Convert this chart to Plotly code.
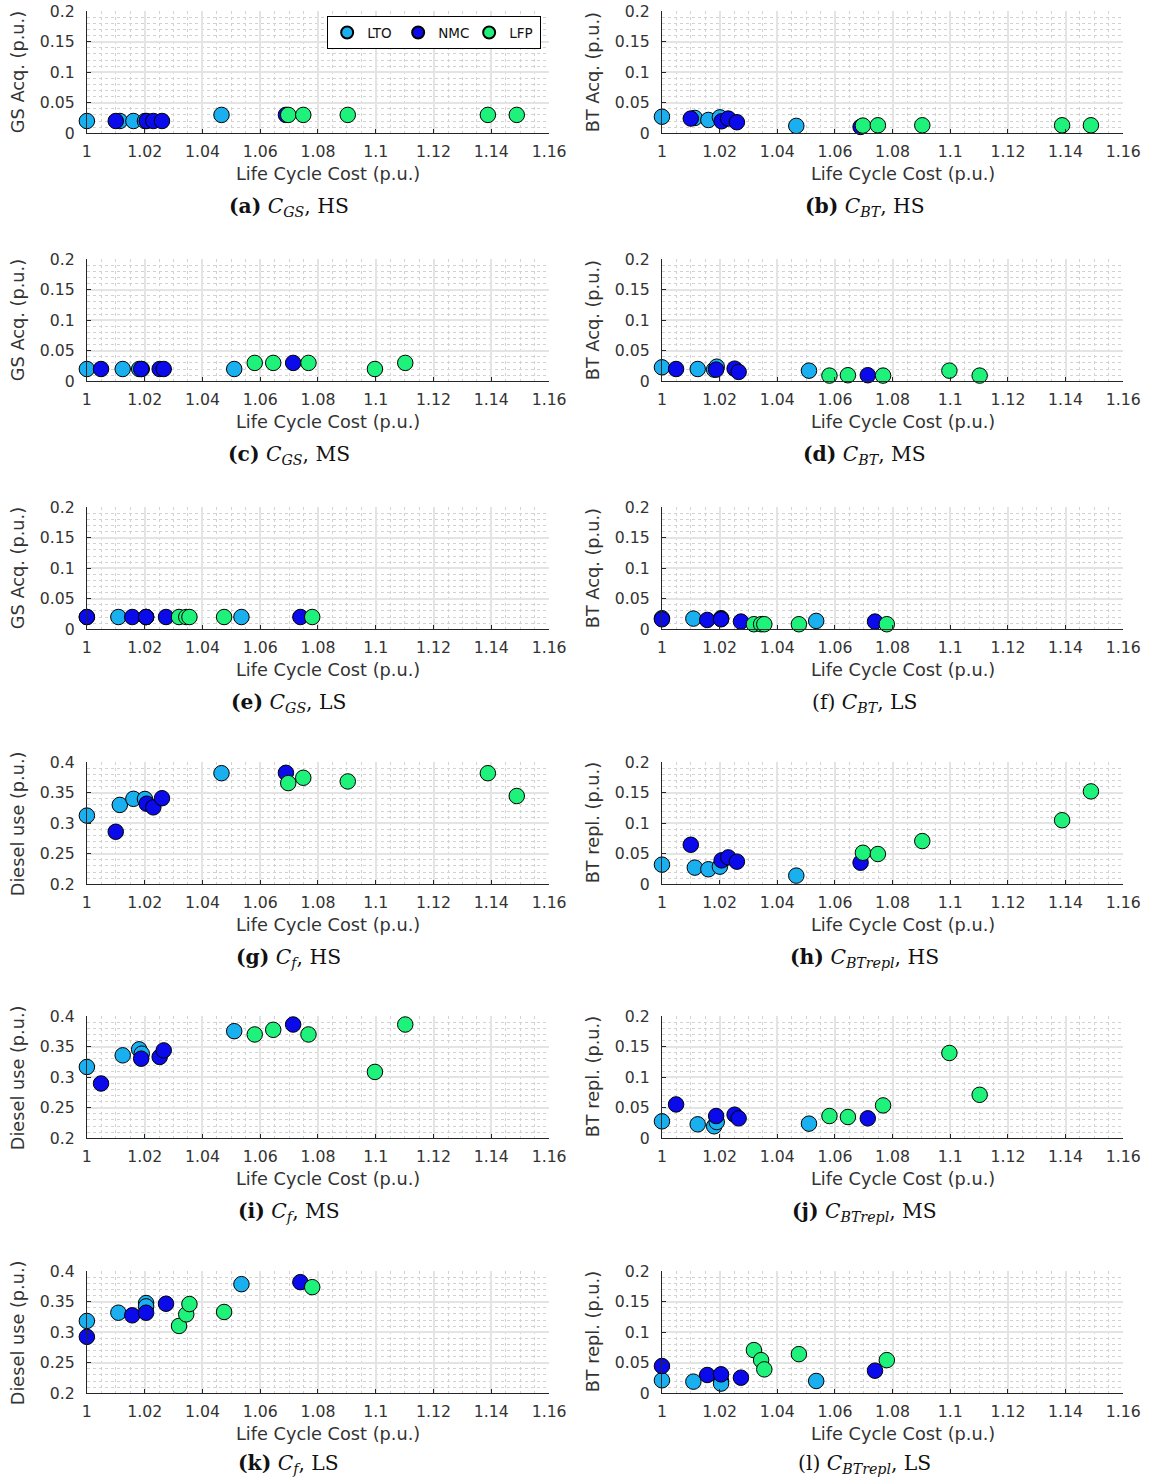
import plotly.graph_objects as go

# ---------------- data ----------------
battery_types = ["LTO", "NMC", "LFP"]
battery_colors = ["#1ab0f0", "#0a0aea", "#1ef27a"]

# Life cycle cost (p.u.) of each design, per scenario and battery type
lcc_hs_lto = [1.000, 1.0114, 1.0161, 1.0201, 1.0466]
lcc_hs_nmc = [1.0100, 1.0207, 1.0230, 1.0260, 1.0689]
lcc_hs_lfp = [1.0697, 1.0749, 1.0903, 1.1388, 1.1488]

lcc_ms_lto = [1.000, 1.0124, 1.0181, 1.0190, 1.0510]
lcc_ms_nmc = [1.0049, 1.0188, 1.0252, 1.0266, 1.0714]
lcc_ms_lfp = [1.0581, 1.0645, 1.0767, 1.0997, 1.1102]

lcc_ls_lto = [1.000, 1.0109, 1.0205, 1.0205, 1.0535]
lcc_ls_nmc = [1.000, 1.0157, 1.0205, 1.0274, 1.0739]
lcc_ls_lfp = [1.0319, 1.0344, 1.0355, 1.0475, 1.0780]

# Generator set acquisition cost (p.u.)
gs_hs_lto = [0.02, 0.02, 0.02, 0.02, 0.03]
gs_hs_nmc = [0.02, 0.02, 0.02, 0.02, 0.03]
gs_hs_lfp = [0.03, 0.03, 0.03, 0.03, 0.03]
gs_ms_lto = [0.02, 0.02, 0.02, 0.02, 0.02]
gs_ms_nmc = [0.02, 0.02, 0.02, 0.02, 0.03]
gs_ms_lfp = [0.03, 0.03, 0.03, 0.02, 0.03]
gs_ls_lto = [0.02, 0.02, 0.02, 0.02, 0.02]
gs_ls_nmc = [0.02, 0.02, 0.02, 0.02, 0.02]
gs_ls_lfp = [0.02, 0.02, 0.02, 0.02, 0.02]

# Battery acquisition cost (p.u.)
bt_hs_lto = [0.027, 0.025, 0.0217, 0.026, 0.012]
bt_hs_nmc = [0.024, 0.0196, 0.024, 0.018, 0.0103]
bt_hs_lfp = [0.0125, 0.013, 0.013, 0.013, 0.013]
bt_ms_lto = [0.0228, 0.020, 0.019, 0.0238, 0.0173]
bt_ms_nmc = [0.020, 0.019, 0.0206, 0.0152, 0.0098]
bt_ms_lfp = [0.0092, 0.0098, 0.0092, 0.0173, 0.0092]
bt_ls_lto = [0.018, 0.0174, 0.018, 0.017, 0.0136]
bt_ls_nmc = [0.0163, 0.0152, 0.0163, 0.0125, 0.0125]
bt_ls_lfp = [0.0082, 0.0082, 0.0082, 0.0082, 0.0082]

# Diesel use cost (p.u.)
fuel_hs_lto = [0.3125, 0.330, 0.340, 0.3397, 0.382]
fuel_hs_nmc = [0.286, 0.332, 0.326, 0.341, 0.3826]
fuel_hs_lfp = [0.3658, 0.3745, 0.3685, 0.382, 0.3446]
fuel_ms_lto = [0.3168, 0.3359, 0.3457, 0.3386, 0.3755]
fuel_ms_nmc = [0.2897, 0.3304, 0.3332, 0.344, 0.3864]
fuel_ms_lfp = [0.3701, 0.3777, 0.3701, 0.3087, 0.3864]
fuel_ls_lto = [0.3185, 0.332, 0.3478, 0.3424, 0.3788]
fuel_ls_nmc = [0.2924, 0.3277, 0.332, 0.3467, 0.3821]
fuel_ls_lfp = [0.3103, 0.3293, 0.3462, 0.3332, 0.3739]

# Battery replacement cost (p.u.)
repl_hs_lto = [0.0321, 0.0272, 0.0245, 0.0288, 0.0141]
repl_hs_nmc = [0.0647, 0.0391, 0.044, 0.037, 0.0353]
repl_hs_lfp = [0.0516, 0.0495, 0.0707, 0.1049, 0.1522]
repl_ms_lto = [0.0277, 0.0228, 0.0196, 0.0266, 0.0239]
repl_ms_nmc = [0.0554, 0.0364, 0.0386, 0.0326, 0.0326]
repl_ms_lfp = [0.0364, 0.0348, 0.0538, 0.1397, 0.0712]
repl_ls_lto = [0.0212, 0.019, 0.0201, 0.0158, 0.0201]
repl_ls_nmc = [0.0446, 0.0299, 0.031, 0.0255, 0.037]
repl_ls_lfp = [0.0707, 0.0543, 0.0391, 0.0641, 0.0543]

x_ticks = [1.00, 1.02, 1.04, 1.06, 1.08, 1.10, 1.12, 1.14, 1.16]
x_tick_text = ["1", "1.02", "1.04", "1.06", "1.08", "1.1", "1.12", "1.14", "1.16"]
acq_ticks = [0, 0.05, 0.10, 0.15, 0.20]
acq_tick_text = ["0", "0.05", "0.1", "0.15", "0.2"]
fuel_ticks = [0.20, 0.25, 0.30, 0.35, 0.40]
fuel_tick_text = ["0.2", "0.25", "0.3", "0.35", "0.4"]

lcc = {
    "HS": [lcc_hs_lto, lcc_hs_nmc, lcc_hs_lfp],
    "MS": [lcc_ms_lto, lcc_ms_nmc, lcc_ms_lfp],
    "LS": [lcc_ls_lto, lcc_ls_nmc, lcc_ls_lfp],
}

# (letter, bold letter?, cost symbol, subscript, scenario, y label, y values, y kind)
panels = [
    ("a", True, "C", "GS", "HS", "GS Acq. (p.u.)", [gs_hs_lto, gs_hs_nmc, gs_hs_lfp], "acq"),
    ("b", True, "C", "BT", "HS", "BT Acq. (p.u.)", [bt_hs_lto, bt_hs_nmc, bt_hs_lfp], "acq"),
    ("c", True, "C", "GS", "MS", "GS Acq. (p.u.)", [gs_ms_lto, gs_ms_nmc, gs_ms_lfp], "acq"),
    ("d", True, "C", "BT", "MS", "BT Acq. (p.u.)", [bt_ms_lto, bt_ms_nmc, bt_ms_lfp], "acq"),
    ("e", True, "C", "GS", "LS", "GS Acq. (p.u.)", [gs_ls_lto, gs_ls_nmc, gs_ls_lfp], "acq"),
    ("f", False, "C", "BT", "LS", "BT Acq. (p.u.)", [bt_ls_lto, bt_ls_nmc, bt_ls_lfp], "acq"),
    ("g", True, "C", "f", "HS", "Diesel use (p.u.)", [fuel_hs_lto, fuel_hs_nmc, fuel_hs_lfp], "fuel"),
    ("h", True, "C", "BTrepl", "HS", "BT repl. (p.u.)", [repl_hs_lto, repl_hs_nmc, repl_hs_lfp], "acq"),
    ("i", True, "C", "f", "MS", "Diesel use (p.u.)", [fuel_ms_lto, fuel_ms_nmc, fuel_ms_lfp], "fuel"),
    ("j", True, "C", "BTrepl", "MS", "BT repl. (p.u.)", [repl_ms_lto, repl_ms_nmc, repl_ms_lfp], "acq"),
    ("k", True, "C", "f", "LS", "Diesel use (p.u.)", [fuel_ls_lto, fuel_ls_nmc, fuel_ls_lfp], "fuel"),
    ("l", False, "C", "BTrepl", "LS", "BT repl. (p.u.)", [repl_ls_lto, repl_ls_nmc, repl_ls_lfp], "acq"),
]

# ---------------- layout geometry ----------------
W, H = 1154, 1484
# Target positions below are page pixels; the figure sits inside the body's
# margin and the page is shown slightly scaled, so convert to figure pixels.
SCALE_X, OFFSET_X = 0.9825, 4.0
SCALE_Y, OFFSET_Y = 0.9865, 9.8

col_px = [(86, 549), (662, 1124)]
row_px = [(11, 133), (259, 381), (507, 629), (762, 884), (1016, 1138), (1271, 1393)]
col_center = [288, 865]
ylabel_x = [17, 593]


def px_x(p):
    return ((p - OFFSET_X) / SCALE_X) / W


def px_y(p):
    return 1 - min((p - OFFSET_Y) / SCALE_Y, H) / H


def fs(v):
    return v / SCALE_Y


AX_FONT = dict(family="DejaVu Sans", size=fs(15.5), color="#333333")
TITLE_FONT = dict(family="DejaVu Sans", size=fs(17.5), color="#333333")
CAP_FONT = dict(family="DejaVu Serif", size=fs(20), color="#111111")

fig = go.Figure()
annotations = []

for i, (letter, bold, sym, sub, scen, ylab, yvals, kind) in enumerate(panels):
    r, c = divmod(i, 2)
    n = i + 1
    xa = "x" if n == 1 else f"x{n}"
    ya = "y" if n == 1 else f"y{n}"
    xkey = "xaxis" if n == 1 else f"xaxis{n}"
    ykey = "yaxis" if n == 1 else f"yaxis{n}"

    for k, (name, color) in enumerate(zip(battery_types, battery_colors)):
        fig.add_trace(go.Scatter(
            x=lcc[scen][k], y=yvals[k], mode="markers", name=name,
            legendgroup=name, showlegend=(n == 1),
            marker=dict(size=15.5, color=color, line=dict(color="#000000", width=1)),
            cliponaxis=False, xaxis=xa, yaxis=ya,
        ))

    x0, x1 = col_px[c]
    top, bot = row_px[r]
    if kind == "fuel":
        yr, ytv, ytt = [0.2, 0.4], fuel_ticks, fuel_tick_text
    else:
        yr, ytv, ytt = [0, 0.2], acq_ticks, acq_tick_text

    fig.layout[xkey] = dict(
        domain=[px_x(x0), px_x(x1)], anchor=ya, range=[1, 1.16],
        tickvals=x_ticks, ticktext=x_tick_text, tickfont=AX_FONT,
        ticks="inside", ticklen=4, tickcolor="#262626", ticklabelstandoff=4,
        showline=True, linecolor="#262626", linewidth=1, zeroline=False,
        showgrid=True, gridcolor="#e4e4e4", gridwidth=1.5,
        minor=dict(dtick=0.005, tick0=1, showgrid=True, gridcolor="#d2d2d2",
                   griddash="dot", gridwidth=1),
        fixedrange=True,
    )
    fig.layout[ykey] = dict(
        domain=[px_y(bot), px_y(top)], anchor=xa, range=yr,
        tickvals=ytv, ticktext=ytt, tickfont=AX_FONT,
        ticks="inside", ticklen=4, tickcolor="#262626", ticklabelstandoff=8,
        showline=True, linecolor="#262626", linewidth=1, zeroline=False,
        showgrid=True, gridcolor="#e4e4e4", gridwidth=1.5,
        minor=dict(dtick=0.01, showgrid=True, gridcolor="#d2d2d2",
                   griddash="dot", gridwidth=1),
        fixedrange=True,
    )

    # axis titles
    annotations.append(dict(
        text="Life Cycle Cost (p.u.)", x=px_x((x0 + x1) / 2 + 10), y=px_y(bot + 41),
        xref="paper", yref="paper", showarrow=False, font=TITLE_FONT,
        xanchor="center", yanchor="middle",
    ))
    annotations.append(dict(
        text=ylab, x=px_x(ylabel_x[c]), y=px_y((top + bot) / 2),
        xref="paper", yref="paper", showarrow=False, font=TITLE_FONT,
        textangle=-90, xanchor="center", yanchor="middle",
    ))
    # sub-figure caption (kept inside the figure on the last row)
    lbl = f"({letter})"
    lbl = f"<b>{lbl}</b>" if bold else lbl
    caption = f"{lbl} <i>{sym}</i><sub><i>{sub}</i></sub>, {scen}"
    cap_y = max(px_y(bot + 74), 10 / H)
    annotations.append(dict(
        text=caption, x=px_x(col_center[c]), y=cap_y,
        xref="paper", yref="paper", showarrow=False, font=CAP_FONT,
        xanchor="center", yanchor="middle",
    ))

fig.update_layout(
    width=W, height=H, margin=dict(l=0, r=0, t=0, b=0),
    paper_bgcolor="white", plot_bgcolor="white",
    showlegend=True,
    legend=dict(
        orientation="h", x=px_x(541), y=px_y(16), xanchor="right", yanchor="top",
        bgcolor="white", bordercolor="#000000", borderwidth=1,
        font=dict(family="DejaVu Sans", size=13.5, color="#111111"),
        itemsizing="constant", entrywidth=26, entrywidthmode="pixels",
        tracegroupgap=0,
    ),
    annotations=annotations,
)

fig.write_html("out.html")
